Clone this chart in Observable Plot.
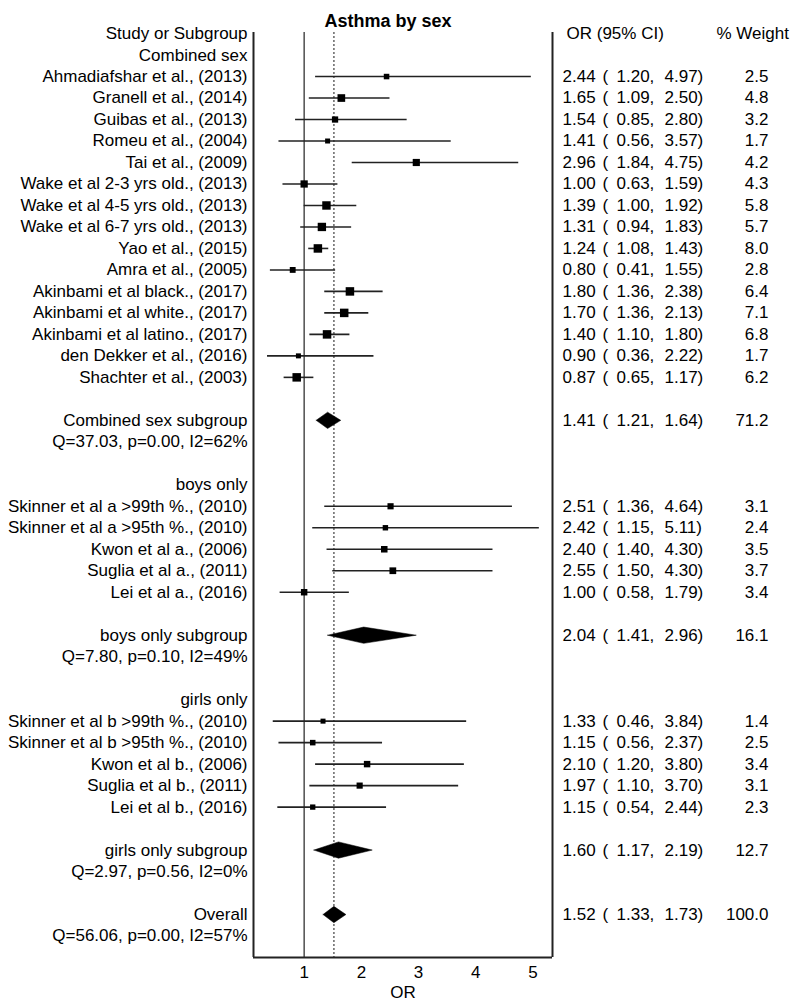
<!DOCTYPE html>
<html>
<head>
<meta charset="utf-8">
<script src="https://cdn.jsdelivr.net/npm/d3@7"></script>
<script src="https://cdn.jsdelivr.net/npm/@observablehq/plot@0.6"></script>
<style>
  html, body { margin: 0; padding: 0; background: #fff; }
  #chart svg { display: block; }
</style>
</head>
<body>
<div id="chart"></div>
<script>
// ---- data ----
const groupNames = ["Combined sex", "boys only", "girls only"];
const studyNames = [
  "Ahmadiafshar et al., (2013)", "Granell et al., (2014)", "Guibas et al., (2013)",
  "Romeu et al., (2004)", "Tai et al., (2009)", "Wake et al 2-3 yrs old., (2013)",
  "Wake et al 4-5 yrs old., (2013)", "Wake et al 6-7 yrs old., (2013)", "Yao et al., (2015)",
  "Amra et al., (2005)", "Akinbami et al black., (2017)", "Akinbami et al white., (2017)",
  "Akinbami et al latino., (2017)", "den Dekker et al., (2016)", "Shachter et al., (2003)",
  "Skinner et al a >99th %., (2010)", "Skinner et al a >95th %., (2010)", "Kwon et al a., (2006)",
  "Suglia et al a., (2011)", "Lei et al a., (2016)",
  "Skinner et al b >99th %., (2010)", "Skinner et al b >95th %., (2010)", "Kwon et al b., (2006)",
  "Suglia et al b., (2011)", "Lei et al b., (2016)"
];
const studyGroup = [0,0,0,0,0,0,0,0,0,0,0,0,0,0,0, 1,1,1,1,1, 2,2,2,2,2];
const studyOR    = [2.44,1.65,1.54,1.41,2.96,1.00,1.39,1.31,1.24,0.80,1.80,1.70,1.40,0.90,0.87, 2.51,2.42,2.40,2.55,1.00, 1.33,1.15,2.10,1.97,1.15];
const studyLo    = [1.20,1.09,0.85,0.56,1.84,0.63,1.00,0.94,1.08,0.41,1.36,1.36,1.10,0.36,0.65, 1.36,1.15,1.40,1.50,0.58, 0.46,0.56,1.20,1.10,0.54];
const studyHi    = [4.97,2.50,2.80,3.57,4.75,1.59,1.92,1.83,1.43,1.55,2.38,2.13,1.80,2.22,1.17, 4.64,5.11,4.30,4.30,1.79, 3.84,2.37,3.80,3.70,2.44];
const studyWeight= [2.5,4.8,3.2,1.7,4.2,4.3,5.8,5.7,8.0,2.8,6.4,7.1,6.8,1.7,6.2, 3.1,2.4,3.5,3.7,3.4, 1.4,2.5,3.4,3.1,2.3];

const poolNames  = ["Combined sex subgroup", "boys only subgroup", "girls only subgroup", "Overall"];
const poolOR     = [1.41, 2.04, 1.60, 1.52];
const poolLo     = [1.21, 1.41, 1.17, 1.33];
const poolHi     = [1.64, 2.96, 2.19, 1.73];
const poolWeight = [71.2, 16.1, 12.7, 100.0];
const poolHet    = ["Q=37.03, p=0.00, I2=62%", "Q=7.80, p=0.10, I2=49%", "Q=2.97, p=0.56, I2=0%", "Q=56.06, p=0.00, I2=57%"];

const xTicks = [1, 2, 3, 4, 5];
const title = "Asthma by sex";

// ---- layout rows (order in the table) ----
const studies = [], pools = [], labels = [];
let row = 0;
labels.push({row: row++, text: "Study or Subgroup"});
groupNames.forEach((g, gi) => {
  labels.push({row: row++, text: g});
  studyNames.forEach((s, i) => {
    if (studyGroup[i] !== gi) return;
    const d = {row: row++, text: s, or: studyOR[i], lo: studyLo[i], hi: studyHi[i], w: studyWeight[i]};
    studies.push(d); labels.push(d);
  });
  row++;
  const p = {row: row++, text: poolNames[gi], or: poolOR[gi], lo: poolLo[gi], hi: poolHi[gi], w: poolWeight[gi]};
  pools.push(p); labels.push(p);
  labels.push({row: row++, text: poolHet[gi]});
  row++;
});
{
  const p = {row: row++, text: poolNames[3], or: poolOR[3], lo: poolLo[3], hi: poolHi[3], w: poolWeight[3]};
  pools.push(p); labels.push(p);
  labels.push({row: row++, text: poolHet[3]});
}
const lastRow = row; // frame bottom

const numbered = studies.concat(pools);
const f2 = d3.format(".2f"), f1 = d3.format(".1f");

// diamonds as closed polygons
const halfH = 0.38;
const diamonds = pools.flatMap((p, k) => [
  {k, x: p.lo, y: p.row}, {k, x: p.or, y: p.row - halfH},
  {k, x: p.hi, y: p.row}, {k, x: p.or, y: p.row + halfH}, {k, x: p.lo, y: p.row}
]);

const side = w => Math.min(8.5, Math.max(5, 3.5 * Math.sqrt(w)));
const overall = poolOR[3];

const xDomain = [0.115, 5.34];
const FONT = "'Liberation Sans', Arial, sans-serif";

const chart = Plot.plot({
  width: 800,
  height: 1007,
  marginLeft: 253,
  marginRight: 248,
  marginTop: 32,
  marginBottom: 50,
  style: {fontFamily: FONT, fontSize: "17px", color: "#000", background: "#fff"},
  x: {domain: xDomain, ticks: xTicks},
  y: {domain: [-0.05, lastRow], reverse: true, axis: null},
  r: {type: "identity"},
  marks: [
    // reference lines
    Plot.ruleX([1], {y1: -0.05, y2: lastRow, stroke: "#333", strokeWidth: 1.3}),
    Plot.ruleX([overall], {y1: -0.05, y2: lastRow, stroke: "#666", strokeWidth: 1.5, strokeDasharray: "2,2"}),
    // frame sides
    Plot.ruleX(xDomain, {y1: -0.05, y2: lastRow, stroke: "#222", strokeWidth: 2}),
    Plot.ruleY([lastRow], {stroke: "#222", strokeWidth: 2}),
    // CIs
    Plot.ruleY(studies, {y: "row", x1: "lo", x2: "hi", stroke: "#222", strokeWidth: 1.6}),
    Plot.dot(studies, {x: "or", y: "row", symbol: "square", fill: "#000", stroke: null, r: d => side(d.w) / Math.sqrt(Math.PI)}),
    // pooled diamonds
    Plot.line(diamonds, {x: "x", y: "y", z: "k", fill: "#000", stroke: "#000", strokeWidth: 0.5, curve: "linear"}),
    // left labels
    Plot.text(labels, {y: "row", text: "text", frameAnchor: "left", dx: -6, textAnchor: "end", fill: "#000"}),
    // right column headers
    Plot.text(["OR (95% CI)"], {y: () => 0, text: d => d, frameAnchor: "right", dx: 14, textAnchor: "start", fill: "#000"}),
    Plot.text(["% Weight"], {y: () => 0, text: d => d, frameAnchor: "right", dx: 164, textAnchor: "start", fill: "#000"}),
    // right numeric columns
    Plot.text(numbered, {y: "row", text: d => f2(d.or), frameAnchor: "right", dx: 10, textAnchor: "start", fill: "#000"}),
    Plot.text(numbered, {y: "row", text: () => "(", frameAnchor: "right", dx: 50, textAnchor: "start", fill: "#000"}),
    Plot.text(numbered, {y: "row", text: d => f2(d.lo) + ",", frameAnchor: "right", dx: 64, textAnchor: "start", fill: "#000"}),
    Plot.text(numbered, {y: "row", text: d => f2(d.hi) + ")", frameAnchor: "right", dx: 112, textAnchor: "start", fill: "#000"}),
    Plot.text(numbered, {y: "row", text: d => f1(d.w), frameAnchor: "right", dx: 216, textAnchor: "end", fill: "#000"}),
    // title
    Plot.text([title], {text: d => d, frameAnchor: "top", dx: -15, dy: -18, fontWeight: "bold", fontSize: 18, fill: "#000"}),
    // x axis
    Plot.axisX({ticks: xTicks, tickFormat: d3.format("d"), tickSize: 0, tickPadding: 8, fontSize: 17, label: "OR", labelAnchor: "center", labelArrow: "none", labelOffset: 40})
  ]
});
document.getElementById("chart").appendChild(chart);
</script>
</body>
</html>
